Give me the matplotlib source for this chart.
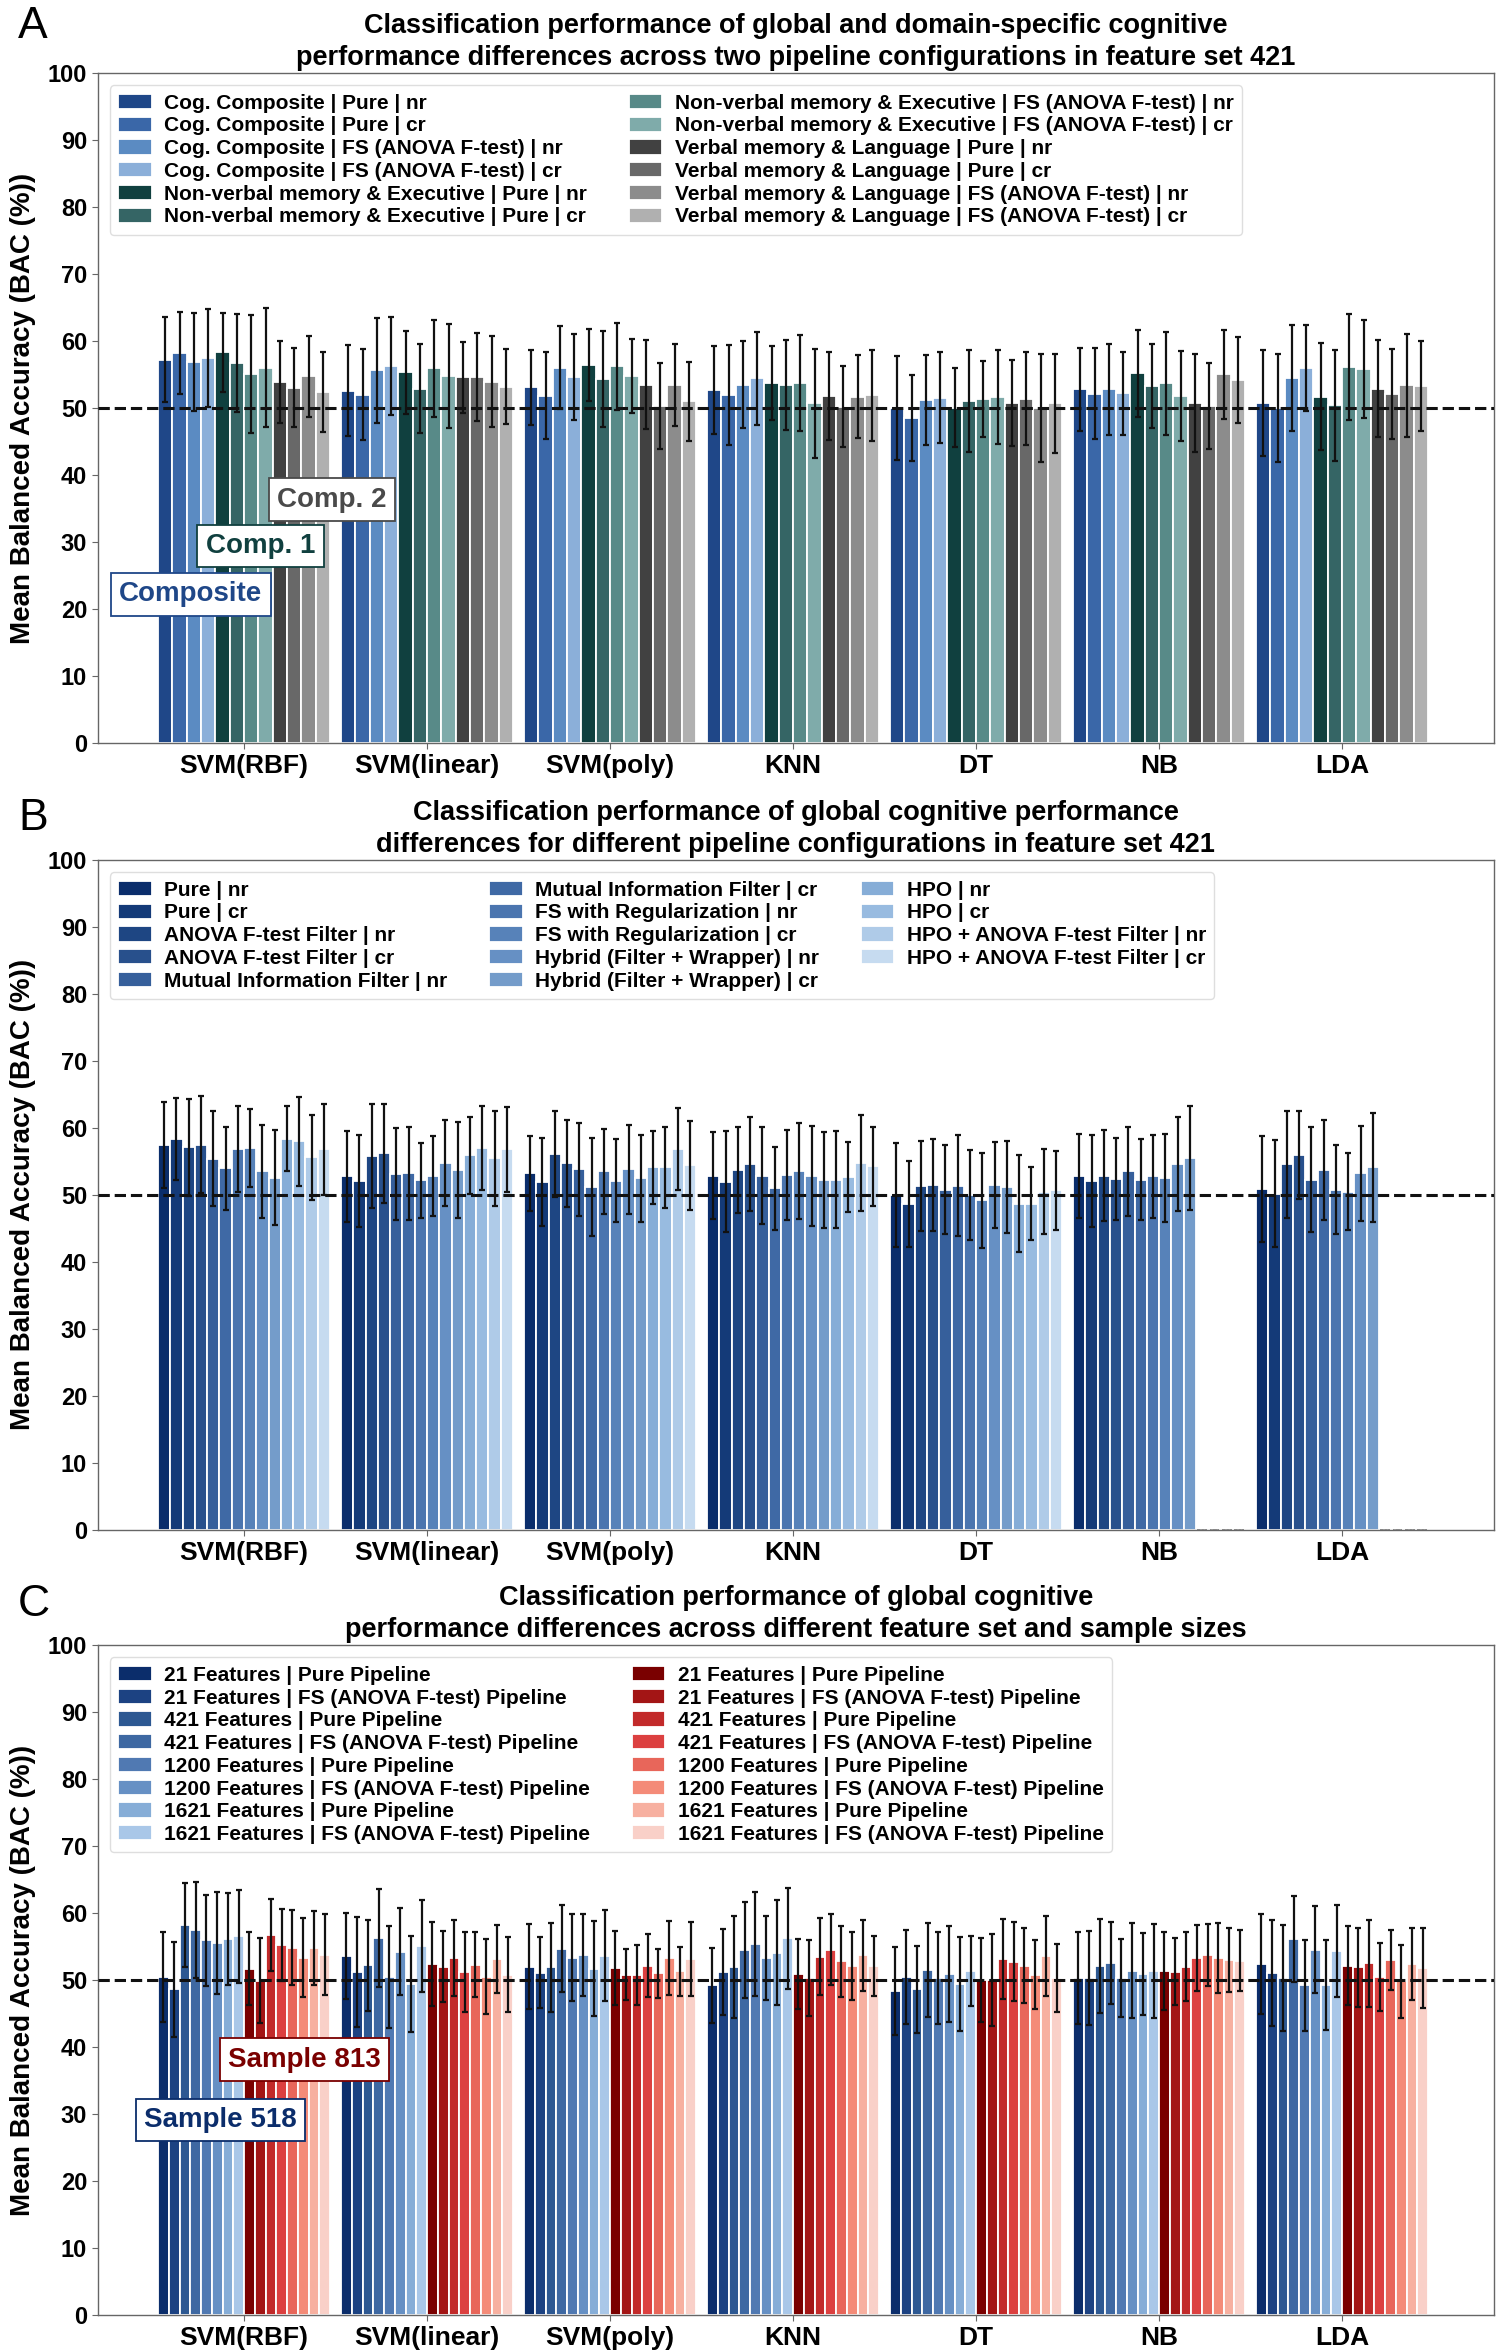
import numpy as np
import matplotlib
matplotlib.use("Agg")
import matplotlib.pyplot as plt

plt.rcParams["font.family"] = ["Liberation Sans", "DejaVu Sans"]
plt.rcParams["font.weight"] = "bold"

classifiers = ["SVM(RBF)", "SVM(linear)", "SVM(poly)", "KNN", "DT", "NB", "LDA"]

# ---------- panel A: 12 series, rows = classifiers ----------
a_labels = [
    "Cog. Composite | Pure | nr", "Cog. Composite | Pure | cr",
    "Cog. Composite | FS (ANOVA F-test) | nr", "Cog. Composite | FS (ANOVA F-test) | cr",
    "Non-verbal memory & Executive | Pure | nr", "Non-verbal memory & Executive | Pure | cr",
    "Non-verbal memory & Executive | FS (ANOVA F-test) | nr", "Non-verbal memory & Executive | FS (ANOVA F-test) | cr",
    "Verbal memory & Language | Pure | nr", "Verbal memory & Language | Pure | cr",
    "Verbal memory & Language | FS (ANOVA F-test) | nr", "Verbal memory & Language | FS (ANOVA F-test) | cr",
]
a_colors = ["#1f4788", "#3a67a8", "#5b8bc2", "#8bafd9",
            "#10403f", "#356565", "#588a88", "#7fabaa",
            "#414141", "#686868", "#8c8c8c", "#b0b0b0"]
a_mean = [
    [57.2, 58.2, 56.9, 57.4, 58.3, 56.7, 55.0, 56.0, 53.9, 53.0, 54.7, 52.4],
    [52.6, 52.0, 55.6, 56.2, 55.3, 52.9, 55.9, 54.8, 54.6, 54.6, 53.9, 53.2],
    [53.1, 51.8, 56.0, 54.6, 56.4, 54.3, 56.2, 54.8, 53.5, 50.3, 53.4, 51.0],
    [52.7, 51.9, 53.5, 54.4, 53.7, 53.4, 53.7, 50.7, 51.8, 50.2, 51.7, 51.9],
    [50.0, 48.5, 51.2, 51.5, 50.0, 51.0, 51.3, 51.6, 50.7, 51.4, 50.0, 50.7],
    [52.8, 52.1, 52.8, 52.2, 55.2, 53.3, 53.7, 51.8, 50.7, 50.3, 55.0, 54.2],
    [50.8, 50.0, 54.5, 56.0, 51.7, 50.4, 56.1, 55.8, 52.9, 52.1, 53.4, 53.3],
]
a_std = [
    [6.3, 6.1, 7.3, 7.3, 5.9, 7.3, 8.8, 8.9, 6.1, 5.9, 6.0, 6.0],
    [6.8, 6.8, 7.8, 7.3, 6.2, 6.7, 7.3, 7.8, 5.3, 6.6, 6.8, 5.6],
    [5.6, 6.5, 6.2, 6.4, 5.4, 7.2, 6.5, 5.5, 6.6, 6.4, 6.1, 5.9],
    [6.6, 7.5, 6.5, 7.0, 5.5, 6.7, 7.2, 8.1, 6.6, 6.0, 6.2, 6.8],
    [7.7, 6.4, 6.7, 6.8, 5.9, 7.6, 5.7, 7.0, 6.4, 7.0, 8.0, 7.4],
    [6.2, 6.8, 6.8, 6.2, 6.5, 6.3, 7.7, 6.7, 7.3, 6.4, 6.6, 6.4],
    [7.9, 8.0, 7.9, 6.4, 8.0, 8.3, 7.9, 7.3, 7.2, 6.7, 7.7, 6.7],
]

# ---------- panel B: 14 series (HPO missing for NB and LDA) ----------
b_labels = [
    "Pure | nr", "Pure | cr", "ANOVA F-test Filter | nr", "ANOVA F-test Filter | cr",
    "Mutual Information Filter | nr", "Mutual Information Filter | cr",
    "FS with Regularization | nr", "FS with Regularization | cr",
    "Hybrid (Filter + Wrapper) | nr", "Hybrid (Filter + Wrapper) | cr",
    "HPO | nr", "HPO | cr", "HPO + ANOVA F-test Filter | nr", "HPO + ANOVA F-test Filter | cr",
]
b_colors = ["#0a2d6b", "#143a78", "#1e4683", "#28508c", "#365f9b", "#3f69a5", "#4b75af",
            "#5782b9", "#6690c4", "#749cca", "#86add7", "#98bbe0", "#afcbe8", "#c6dbf0"]
nan = np.nan
b_mean = [
    [57.4, 58.3, 57.1, 57.5, 55.4, 54.0, 56.9, 57.0, 53.5, 52.6, 58.4, 58.0, 55.6, 56.8],
    [52.8, 52.1, 55.8, 56.2, 53.1, 53.2, 52.2, 52.8, 54.8, 53.7, 55.9, 57.0, 55.5, 56.8],
    [53.2, 51.9, 56.1, 54.7, 53.8, 51.2, 53.5, 52.1, 53.8, 52.5, 54.1, 54.1, 56.8, 54.4],
    [52.9, 52.0, 53.7, 54.6, 52.9, 51.0, 53.0, 53.6, 52.8, 52.2, 52.3, 52.7, 54.8, 54.3],
    [50.0, 48.6, 51.3, 51.5, 50.8, 51.4, 50.0, 49.2, 51.5, 51.2, 48.7, 48.7, 50.5, 50.7],
    [52.8, 52.1, 52.9, 52.4, 53.5, 52.3, 52.8, 52.5, 54.6, 55.5, nan, nan, nan, nan],
    [50.9, 50.2, 54.6, 56.0, 52.3, 53.7, 50.8, 50.5, 53.2, 54.1, nan, nan, nan, nan],
]
b_std = [
    [6.4, 6.1, 7.2, 7.2, 7.1, 6.2, 6.4, 5.8, 7.0, 7.1, 4.9, 6.6, 6.4, 6.8],
    [6.8, 6.9, 7.7, 7.4, 6.9, 6.9, 5.6, 6.0, 6.4, 7.2, 5.8, 6.3, 7.1, 6.3],
    [5.6, 6.6, 6.4, 6.5, 6.9, 7.3, 6.3, 6.2, 6.6, 6.5, 5.4, 6.0, 6.1, 6.6],
    [6.5, 7.5, 6.4, 7.0, 7.2, 6.2, 6.7, 7.2, 7.5, 7.2, 7.2, 5.2, 7.2, 5.9],
    [7.8, 6.4, 6.7, 6.9, 6.7, 7.5, 6.7, 7.1, 6.4, 6.9, 7.2, 5.5, 6.4, 5.9],
    [6.3, 6.9, 6.8, 6.1, 6.6, 6.1, 6.2, 6.6, 7.0, 7.7, nan, nan, nan, nan],
    [7.9, 8.0, 8.0, 6.6, 7.9, 7.5, 6.7, 5.8, 7.1, 8.1, nan, nan, nan, nan],
]

# ---------- panel C: 8 blue (sample 518) + 8 red (sample 813) ----------
c_names = ["21 Features | Pure Pipeline", "21 Features | FS (ANOVA F-test) Pipeline",
           "421 Features | Pure Pipeline", "421 Features | FS (ANOVA F-test) Pipeline",
           "1200 Features | Pure Pipeline", "1200 Features | FS (ANOVA F-test) Pipeline",
           "1621 Features | Pure Pipeline", "1621 Features | FS (ANOVA F-test) Pipeline"]
c_labels = c_names + c_names
c_colors = ["#0b2d6b", "#1c4282", "#2d5892", "#3e68a2", "#5079b2", "#6690c4", "#86add7", "#a9c7e8",
            "#7a0000", "#a31515", "#c22a2a", "#dc4040", "#e8665a", "#f48b78", "#f7b0a0", "#f9d0c8"]
c_mean = [
    [50.5, 48.6, 58.2, 57.5, 55.9, 55.5, 56.1, 56.5, 51.7, 49.9, 56.7, 55.2, 54.8, 53.3, 54.8, 53.8],
    [53.6, 51.2, 52.2, 56.3, 50.4, 54.2, 49.4, 55.1, 52.4, 52.0, 53.3, 51.2, 52.3, 50.5, 53.1, 50.8],
    [52.0, 51.1, 51.9, 54.7, 53.3, 53.7, 51.7, 53.6, 51.8, 50.8, 50.8, 52.1, 51.0, 53.3, 51.3, 53.1],
    [49.2, 51.2, 51.9, 54.5, 55.4, 53.3, 54.1, 56.2, 50.9, 50.3, 53.5, 54.5, 52.8, 52.1, 53.7, 52.1],
    [48.4, 50.4, 48.6, 51.5, 50.3, 50.9, 49.4, 51.3, 50.0, 50.0, 53.1, 52.7, 52.1, 50.8, 53.6, 50.3],
    [50.3, 50.3, 52.1, 52.5, 50.3, 51.4, 50.9, 51.4, 51.4, 51.2, 52.0, 53.3, 53.7, 53.3, 53.0, 52.9],
    [52.4, 51.0, 50.3, 56.1, 49.2, 54.5, 49.2, 54.3, 52.1, 51.9, 52.5, 50.5, 53.0, 49.8, 52.4, 51.8],
]
c_std = [
    [6.7, 7.1, 6.3, 7.2, 6.8, 7.6, 6.9, 7.0, 5.5, 6.3, 5.4, 5.4, 5.6, 5.9, 5.5, 6.1],
    [6.4, 8.2, 6.8, 7.3, 7.6, 6.5, 7.1, 6.9, 6.3, 5.3, 5.7, 5.9, 4.8, 5.6, 5.1, 5.6],
    [6.3, 5.3, 6.6, 6.5, 6.5, 6.1, 7.1, 6.8, 5.5, 3.8, 4.5, 4.7, 3.7, 5.5, 3.7, 5.5],
    [5.6, 6.4, 7.6, 7.2, 7.8, 6.3, 7.8, 7.6, 5.2, 5.7, 5.7, 5.3, 5.3, 5.1, 5.3, 4.5],
    [6.6, 7.0, 6.5, 7.0, 6.8, 7.1, 7.0, 5.2, 6.3, 6.8, 6.0, 5.9, 5.6, 5.1, 6.0, 5.1],
    [6.9, 7.0, 7.0, 6.1, 5.8, 7.1, 6.1, 7.0, 5.8, 5.0, 5.1, 4.9, 4.6, 5.2, 4.8, 4.6],
    [7.4, 7.9, 7.9, 6.4, 6.8, 6.5, 6.7, 6.9, 5.9, 5.9, 6.5, 5.1, 4.5, 5.4, 5.4, 5.9],
]


def draw_panel(ax, means, stds, labels, colors, title, ncol):
    means = np.array(means).T
    stds = np.array(stds).T
    n = len(labels)
    x = np.arange(len(classifiers))
    w = 0.94 / n
    for i in range(n):
        pos = x - 0.47 + w * (i + 0.5)
        ok = ~np.isnan(means[i])
        ax.bar(pos[ok], means[i][ok], w, color=colors[i], edgecolor="white",
               linewidth=1.3, label=labels[i], zorder=2)
        ax.errorbar(pos[ok], means[i][ok], yerr=stds[i][ok], fmt="none", ecolor="#111111",
                    elinewidth=1.6, capsize=2.5, capthick=1.6, zorder=4)
        if (~ok).any():
            ax.bar(pos[~ok], 0, w * 0.8, fill=False, edgecolor="#888888",
                   linestyle="--", linewidth=1.2, zorder=3)
    ax.axhline(50, color="#111111", linestyle="--", linewidth=2.2, zorder=5)
    ax.set_xlim(-0.8, 6.83)
    ax.set_ylim(0, 100)
    ax.set_yticks(range(0, 101, 10))
    ax.set_xticks(x)
    ax.set_xticklabels(classifiers, fontsize=19, fontweight="bold")
    ax.tick_params(axis="y", labelsize=17, length=4, color="#666666")
    ax.tick_params(axis="x", length=4, color="#666666", pad=4)
    for s in ax.spines.values():
        s.set_color("#666666")
        s.set_linewidth(1.0)
    ax.set_ylabel("Mean Balanced Accuracy (BAC (%))", fontsize=20, fontweight="bold")
    ax.yaxis.set_label_coords(-0.044, 0.5)
    ax.set_title(title, fontsize=19.5, fontweight="bold", pad=6, linespacing=1.3)
    leg = ax.legend(loc="upper left", ncol=ncol, fontsize=15, frameon=True, fancybox=True,
                    framealpha=0.95, edgecolor="#dddddd", handlelength=1.6, handleheight=0.75,
                    labelspacing=0.18, columnspacing=2.0, handletextpad=0.6, borderaxespad=0.6)
    leg.get_frame().set_linewidth(1.0)
    leg.set_zorder(10)


fig = plt.figure(figsize=(15.02, 23.52), dpi=100)
ax_a = fig.add_axes([0.065, 0.6841, 0.9297, 0.2849])
ax_b = fig.add_axes([0.065, 0.3495, 0.9297, 0.2849])
ax_c = fig.add_axes([0.065, 0.0157, 0.9297, 0.2849])

draw_panel(ax_a, a_mean, a_std, a_labels, a_colors,
           "Classification performance of global and domain-specific cognitive\n"
           "performance differences across two pipeline configurations in feature set 421", 2)
draw_panel(ax_b, b_mean, b_std, b_labels, b_colors,
           "Classification performance of global cognitive performance\n"
           "differences for different pipeline configurations in feature set 421", 3)
draw_panel(ax_c, c_mean, c_std, c_labels, c_colors,
           "Classification performance of global cognitive\n"
           "performance differences across different feature set and sample sizes", 2)

def tag(ax, x, y, txt, color):
    ax.text(x, y, txt, color=color, fontsize=20, fontweight="bold", ha="center", va="center",
            zorder=8, bbox=dict(boxstyle="square,pad=0.3", fc="white", ec=color, lw=1.3))

tag(ax_a, -0.29, 22.2, "Composite", "#1f4788")
tag(ax_a, 0.09, 29.4, "Comp. 1", "#10403f")
tag(ax_a, 0.48, 36.3, "Comp. 2", "#4a4a4a")
tag(ax_c, 0.33, 38.1, "Sample 813", "#7a0000")
tag(ax_c, -0.13, 29.1, "Sample 518", "#0b2d6b")

for letter, yy in [("A", 27), ("B", 818), ("C", 1605)]:
    fig.text(0.012, 1 - yy / 2352, letter, fontsize=32, fontweight="normal", va="center")

fig.savefig("out.png", dpi=100)
